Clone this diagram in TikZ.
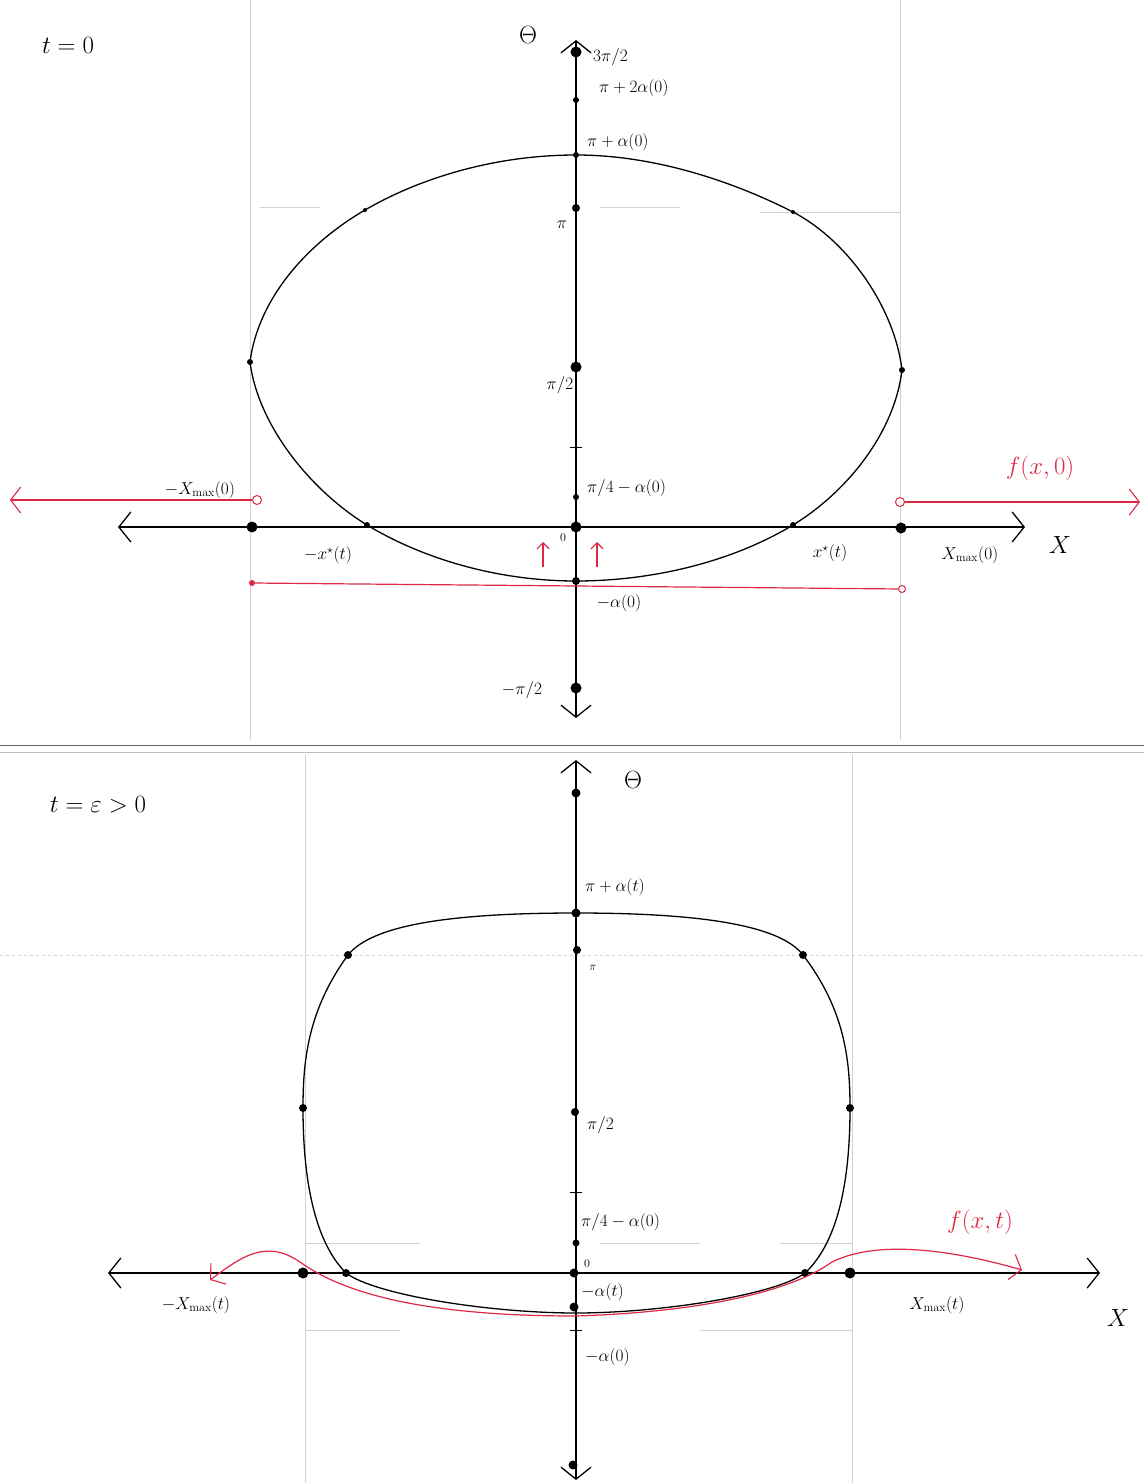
\documentclass[tikz,border=0pt]{standalone}
\usetikzlibrary{arrows.meta}
\definecolor{redink}{RGB}{222,40,70}
\begin{document}
\begin{tikzpicture}[x=1pt,y=-1pt,
  barb/.tip={Straight Barb[length=12pt,width=30pt,line width=1.3pt]},
  rbarb/.tip={Straight Barb[length=10pt,width=26pt,line width=1.1pt]},
  axis/.style={line width=1.1pt, black, barb-barb},
  curve/.style={line width=1.3pt, black},
  redline/.style={line width=1.2pt, redink},
  guide/.style={black!18, line width=0.6pt},
  bigdot/.style={circle, fill=black, inner sep=0pt, minimum size=11pt},
  smalldot/.style={circle, fill=black, inner sep=0pt, minimum size=6pt},
  ring/.style={circle, draw=redink, line width=1pt, fill=white, inner sep=0pt, minimum size=9pt},
  lbl/.style={font=\fontsize{17}{20}\selectfont, inner sep=1pt},
  tiny/.style={font=\fontsize{12}{14}\selectfont},
  bigl/.style={font=\fontsize{30}{34}\selectfont},
  redl/.style={font=\fontsize{28}{32}\selectfont, text=redink}]
\useasboundingbox (0,0) rectangle (1144,1483);
\fill[white] (0,0) rectangle (1144,1483);

% faint guide lines
\draw[guide] (250,0) -- (250,740);
\draw[guide] (900,0) -- (900,740);
\draw[guide] (260,207) -- (320,207) (600,207) -- (680,207) (760,212) -- (900,212);
\draw[guide] (305,755) -- (305,1483);
\draw[guide] (852,755) -- (852,1483);
\draw[guide, dashed] (0,955) -- (1144,955);
\draw[guide] (600,1243) -- (700,1243) (780,1243) -- (852,1243) (305,1243) -- (420,1243);
\draw[guide] (305,1330) -- (400,1330) (700,1330) -- (852,1330);
\draw[black!60, line width=1pt] (0,745) -- (1144,745);
\draw[black!25, line width=0.8pt] (0,752) -- (1144,752);

%================ TOP PANEL (t = 0) ================
\node[bigl] (t0) at (68,45) {$t=0$};
\node[font=\fontsize{24}{28}\selectfont] (th1) at (528,35) {$\Theta$};

\coordinate (vt1) at (576,40);
\coordinate (vb1) at (576,718);
\draw[axis] (vb1) -- (vt1);
\coordinate (hl1) at (118,527);
\coordinate (hr1) at (1025,527);
\draw[axis] (hl1) -- (hr1);
\node[font=\fontsize{28}{32}\selectfont] (X1) at (1060,545) {$X$};

% closed curve
\coordinate (ct) at (576,155);
\coordinate (ctr) at (793,212);
\coordinate (cr) at (902,370);
\coordinate (cbr) at (793,525);
\coordinate (cb) at (576,581);
\coordinate (cbl) at (367,525);
\coordinate (cl) at (250,362);
\coordinate (ctl) at (365,210);
\draw[curve] (ct) .. controls (660,155) and (740,185) .. (ctr)
  .. controls (850,242) and (895,310) .. (cr)
  .. controls (895,430) and (850,490) .. (cbr)
  .. controls (730,563) and (650,581) .. (cb)
  .. controls (500,581) and (425,560) .. (cbl)
  .. controls (310,490) and (258,425) .. (cl)
  .. controls (258,300) and (305,245) .. (ctl)
  .. controls (420,178) and (495,155) .. (ct);

% axis points
\node[bigdot]   (p32) at (576,52) {};
\node[smalldot] (pp2a) at (576,100) {};
\node[smalldot] (ppa) at (576,155) {};
\node[smalldot, minimum size=8pt] (ppi) at (576,208) {};
\node[bigdot]   (pph) at (576,367) {};
\node[smalldot] (cr1) at (902,370) {};
\node[smalldot] (cl1) at (250,362) {};
\node[smalldot, minimum size=4pt] (cd1) at (793,212) {};
\node[smalldot, minimum size=4pt] (cd2) at (365,210) {};
\draw[line width=0.8pt] (570,447) -- (582,447);
\node[smalldot] (ppq) at (576,497) {};
\node[bigdot]   (o1) at (576,527) {};
\node[smalldot, minimum size=8pt] (pma) at (576,581) {};
\node[bigdot]   (pmh) at (576,688) {};

\node[lbl, anchor=west] at (592,57) {$3\pi/2$};
\node[lbl, anchor=west] at (598,88) {$\pi+2\alpha(0)$};
\node[lbl, anchor=west] at (586,142) {$\pi+\alpha(0)$};
\node[lbl] at (562,225) {$\pi$};
\node[lbl] at (560,385) {$\pi/2$};
\node[lbl, anchor=west] at (586,488) {$\pi/4-\alpha(0)$};
\node[tiny] at (563,538) {$0$};
\node[lbl] at (619,603) {$-\alpha(0)$};
\node[lbl] at (522,690) {$-\pi/2$};

% x-axis points
\node[bigdot]   (xl1) at (252,527) {};
\node[smalldot] (xs1) at (367,525) {};
\node[smalldot] (xs2) at (793,525) {};
\node[bigdot]   (xr1) at (901,528) {};
\node[lbl] at (328,555) {$-x^{\star}(t)$};
\node[lbl] at (830,553) {$x^{\star}(t)$};
\node[lbl] at (970,555) {$X_{\max}(0)$};
\node[lbl] at (200,490) {$-X_{\max}(0)$};

% red f(x,0)
\node[ring] (rl) at (257,500) {};
\coordinate (rlt) at (10,500);
\draw[redline, -rbarb] (rl) -- (rlt);
\node[ring] (rr) at (900,502) {};
\coordinate (rrt) at (1140,502);
\draw[redline, -rbarb] (rr) -- (rrt);
\node[redl] at (1040,468) {$f(x,0)$};
\node[circle, fill=redink, inner sep=0pt, minimum size=6pt] (rb1) at (252,583) {};
\node[ring, minimum size=7pt] (rb2) at (902,589) {};
\draw[redline] (rb1) -- (rb2);
\coordinate (ua1) at (543,567); \coordinate (ua2) at (543,542);
\coordinate (ub1) at (597,567); \coordinate (ub2) at (597,542);
\draw[redline, -{Straight Barb[length=6pt,width=12pt]}] (ua1) -- (ua2);
\draw[redline, -{Straight Barb[length=6pt,width=12pt]}] (ub1) -- (ub2);

%================ BOTTOM PANEL (t = eps > 0) ================
\node[bigl] (te) at (98,805) {$t=\varepsilon>0$};
\node[font=\fontsize{24}{28}\selectfont] (th2) at (633,780) {$\Theta$};

\coordinate (vt2) at (576,760);
\coordinate (vb2) at (576,1480);
\draw[axis] (vb2) -- (vt2);
\coordinate (hl2) at (108,1273);
\coordinate (hr2) at (1100,1273);
\draw[axis] (hl2) -- (hr2);
\node[font=\fontsize{28}{32}\selectfont] (X2) at (1118,1318) {$X$};

\coordinate (st) at (576,913);
\coordinate (str) at (803,955);
\coordinate (sr) at (850,1108);
\coordinate (sbr) at (805,1273);
\coordinate (sb) at (576,1313);
\coordinate (sbl) at (346,1273);
\coordinate (sl) at (303,1108);
\coordinate (stl) at (348,955);
\draw[curve] (st) .. controls (700,913) and (780,925) .. (str)
  .. controls (845,1010) and (850,1060) .. (sr)
  .. controls (850,1190) and (835,1245) .. (sbr)
  .. controls (775,1295) and (660,1313) .. (sb)
  .. controls (490,1313) and (375,1295) .. (sbl)
  .. controls (318,1245) and (303,1190) .. (sl)
  .. controls (303,1060) and (308,1010) .. (stl)
  .. controls (372,925) and (450,913) .. (st);

\node[bigdot, minimum size=9pt] (q1) at (576,793) {};
\node[bigdot, minimum size=9pt] (qpa) at (576,913) {};
\node[bigdot, minimum size=8pt] (qpi) at (577,950) {};
\node[bigdot, minimum size=8pt] (qph) at (575,1112) {};
\node[bigdot, minimum size=8pt] (qr) at (850,1108) {};
\node[bigdot, minimum size=8pt] (ql) at (303,1108) {};
\node[bigdot, minimum size=8pt] (qtr) at (803,955) {};
\node[bigdot, minimum size=8pt] (qtl) at (348,955) {};
\draw[line width=0.8pt] (570,1192) -- (582,1192);
\node[bigdot, minimum size=7pt] (qpq) at (576,1243) {};
\node[bigdot, minimum size=9pt] (o2) at (574,1273) {};
\node[bigdot, minimum size=9pt] (qma) at (574,1307) {};
\draw[line width=0.8pt] (570,1330) -- (582,1330);
\node[bigdot, minimum size=9pt] (qb) at (573,1465) {};

\node[lbl, anchor=west] at (584,887) {$\pi+\alpha(t)$};
\node[tiny] at (593,968) {$\pi$};
\node[lbl, anchor=west] at (586,1125) {$\pi/2$};
\node[lbl, anchor=west] at (580,1222) {$\pi/4-\alpha(0)$};
\node[tiny] at (587,1264) {$0$};
\node[lbl, anchor=west] at (580,1292) {$-\alpha(t)$};
\node[lbl, anchor=west] at (584,1357) {$-\alpha(0)$};

\node[bigdot] (yl1) at (303,1273) {};
\node[smalldot, minimum size=8pt] (ys1) at (346,1273) {};
\node[smalldot, minimum size=8pt] (ys2) at (805,1273) {};
\node[bigdot] (yr1) at (850,1273) {};
\node[lbl] at (196,1305) {$-X_{\max}(t)$};
\node[lbl] at (937,1305) {$X_{\max}(t)$};

% red f(x,t)
\coordinate (rc) at (576,1316);
\coordinate (rlt2) at (210,1280);
\coordinate (rrt2) at (1022,1270);
\draw[redline, -rbarb] (rc) .. controls (440,1316) and (350,1298) .. (300,1262)
      .. controls (265,1238) and (240,1258) .. (rlt2);
\draw[redline, -rbarb] (rc) .. controls (700,1312) and (790,1292) .. (832,1262)
      .. controls (880,1238) and (960,1252) .. (rrt2);
\node[redl] at (980,1222) {$f(x,t)$};
\end{tikzpicture}
\end{document}
